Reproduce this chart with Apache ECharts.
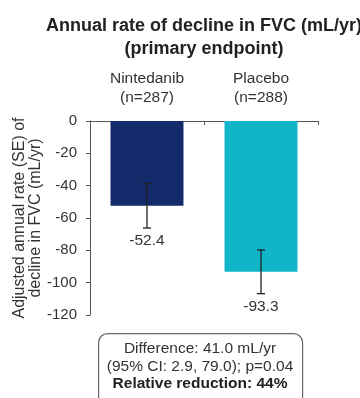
<!DOCTYPE html>
<html>
<head>
<meta charset="utf-8">
<script src="https://cdn.jsdelivr.net/npm/echarts@6/dist/echarts.min.js"></script>
<style>
html,body{margin:0;padding:0;background:#fff;}
#main{width:360px;height:398px;}
</style>
</head>
<body>
<div id="main"></div>
<script>
var categories = ['Nintedanib\n(n=287)', 'Placebo\n(n=288)'];
var rates = [-52.4, -93.3];
var se = [13.8, 13.5];
var barColors = ['#132a6b', '#12b5c8'];
var yTicks = {min: -120, max: 0, interval: 20};
var boxLines = ['Difference: 41.0 mL/yr', '(95% CI: 2.9, 79.0); p=0.04', 'Relative reduction: 44%'];

var FONT = '"Liberation Sans", Arial, sans-serif';
var chart = echarts.init(document.getElementById('main'), null, {renderer: 'canvas'});

var errData = rates.map(function (v, i) { return [i, v, se[i]]; });

var option = {
  animation: false,
  textStyle: {fontFamily: FONT},
  title: {
    text: 'Annual rate of decline in FVC (mL/yr)\n(primary endpoint)',
    left: 199, top: 10, textAlign: 'center',
    textStyle: {fontFamily: FONT, fontSize: 18, fontWeight: 'bold', color: '#222', lineHeight: 23}
  },
  grid: {left: 90, right: 42, top: 121, bottom: 83, containLabel: false, outerBoundsMode: 'none'},
  xAxis: {
    type: 'category', position: 'top', data: categories,
    axisLine: {show: true, lineStyle: {color: '#555', width: 1}},
    axisTick: {show: true, inside: true, length: 4, lineStyle: {color: '#555'}},
    axisLabel: {margin: 14, fontSize: 15.5, lineHeight: 19, color: '#333', fontFamily: FONT}
  },
  yAxis: {
    type: 'value', min: yTicks.min, max: yTicks.max, interval: yTicks.interval,
    name: 'Adjusted annual rate (SE) of\ndecline in FVC (mL/yr)',
    nameLocation: 'middle', nameRotate: 90, nameGap: 46, nameMoveOverlap: false,
    nameTextStyle: {fontSize: 16, lineHeight: 16, color: '#333', fontFamily: FONT},
    axisLine: {show: true, lineStyle: {color: '#555', width: 1}},
    axisTick: {show: true, length: 4, lineStyle: {color: '#555'}},
    axisLabel: {fontSize: 15, color: '#333', margin: 13, fontFamily: FONT},
    splitLine: {show: false}
  },
  series: [
    {
      type: 'bar', barWidth: '64%',
      data: rates.map(function (v, i) { return {value: v, itemStyle: {color: barColors[i]}}; })
    },
    {
      type: 'custom', z: 10,
      data: errData,
      renderItem: function (params, api) {
        var i = api.value(0), m = api.value(1), s = api.value(2);
        var top = api.coord([i, m + s]);
        var bot = api.coord([i, m - s]);
        var x = top[0];
        var cap = 4;
        var st = {stroke: '#222', lineWidth: 1.3};
        return {
          type: 'group',
          children: [
            {type: 'line', shape: {x1: x, y1: top[1], x2: x, y2: bot[1]}, style: st},
            {type: 'line', shape: {x1: x - cap, y1: top[1], x2: x + cap, y2: top[1]}, style: st},
            {type: 'line', shape: {x1: x - cap, y1: bot[1], x2: x + cap, y2: bot[1]}, style: st},
            {type: 'text', style: {text: m.toFixed(1), x: x, y: bot[1] + 5, align: 'center', verticalAlign: 'top',
              fontSize: 15.5, fill: '#333', fontFamily: FONT}}
          ]
        };
      }
    }
  ],
  graphic: [
    {
      type: 'rect', left: 98, top: 333,
      shape: {width: 204, height: 75, r: 9},
      style: {fill: '#fff', stroke: '#666', lineWidth: 1.2}
    },
    {type: 'text', x: 200, y: 349, style: {text: boxLines[0], fontSize: 15.5, fill: '#333', fontFamily: FONT, align: 'center', verticalAlign: 'middle'}},
    {type: 'text', x: 200, y: 367, style: {text: boxLines[1], fontSize: 15.5, fill: '#333', fontFamily: FONT, align: 'center', verticalAlign: 'middle'}},
    {type: 'text', x: 200, y: 384, style: {text: boxLines[2], fontSize: 15.5, fontWeight: 'bold', fill: '#222', fontFamily: FONT, align: 'center', verticalAlign: 'middle'}}
  ]
};
chart.setOption(option);
</script>
</body>
</html>
